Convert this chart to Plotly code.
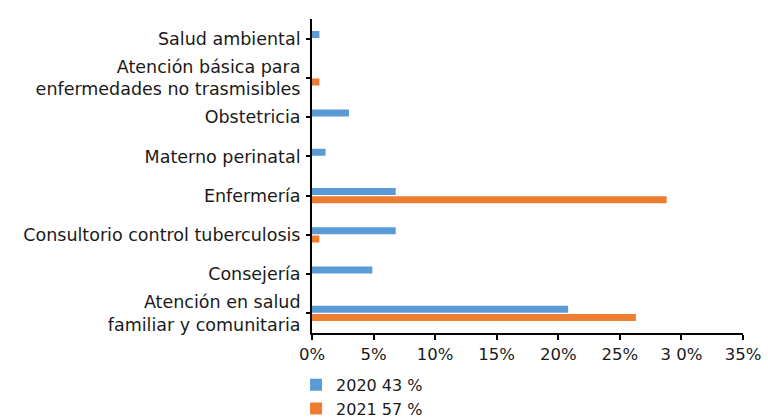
import plotly.graph_objects as go

categories = [
    "Salud ambiental",
    "Atención básica para<br>enfermedades no trasmisibles",
    "Obstetricia",
    "Materno perinatal",
    "Enfermería",
    "Consultorio control tuberculosis",
    "Consejería",
    "Atención en salud<br>familiar y comunitaria",
]
values_2020 = [0.6, 0.0, 3.0, 1.1, 6.8, 6.8, 4.9, 20.8]
values_2021 = [0.0, 0.6, 0.0, 0.0, 28.8, 0.6, 0.0, 26.3]
series_names = ["2020 43 %", "2021 57 %"]
tick_vals = [0, 5, 10, 15, 20, 25, 30, 35]
tick_text = ["0%", "5%", "10%", "15%", "20%", "25%", "3 0%", "35%"]

FONT = "DejaVu Sans"
TXT = "#1a1a1a"

fig = go.Figure()
fig.add_trace(go.Bar(y=categories, x=values_2020, orientation="h", name=series_names[0],
                     marker=dict(color="#5B9BD5", line=dict(width=0))))
fig.add_trace(go.Bar(y=categories, x=values_2021, orientation="h", name=series_names[1],
                     marker=dict(color="#ED7D31", line=dict(width=0))))

fig.update_layout(
    width=768, height=418,
    margin=dict(l=312, r=25, t=19, b=85, autoexpand=False),
    paper_bgcolor="white", plot_bgcolor="white",
    barmode="group", bargap=0.58, bargroupgap=0.15,
    font=dict(family=FONT, size=16.5, color=TXT),
    showlegend=True,
    legend=dict(orientation="v", x=-0.037, xanchor="left",
                yref="container", y=0.12, yanchor="top",
                font=dict(family=FONT, size=16, color=TXT),
                tracegroupgap=0, itemsizing="constant", bgcolor="rgba(0,0,0,0)"),
    xaxis=dict(range=[0, 35], tickvals=tick_vals, ticktext=tick_text,
               showgrid=False, zeroline=False, showline=True, linecolor="black", linewidth=2,
               ticks="outside", ticklen=5, tickwidth=2, tickcolor="black",
               tickfont=dict(family=FONT, size=16.5, color=TXT)),
    yaxis=dict(autorange="reversed", showgrid=False, zeroline=False, showline=True,
               linecolor="black", linewidth=2, ticks="outside", ticklen=4, tickwidth=2,
               tickcolor="black", ticklabelstandoff=2,
               tickfont=dict(family=FONT, size=17.5, color=TXT)),
)

fig.write_html("out.html")
